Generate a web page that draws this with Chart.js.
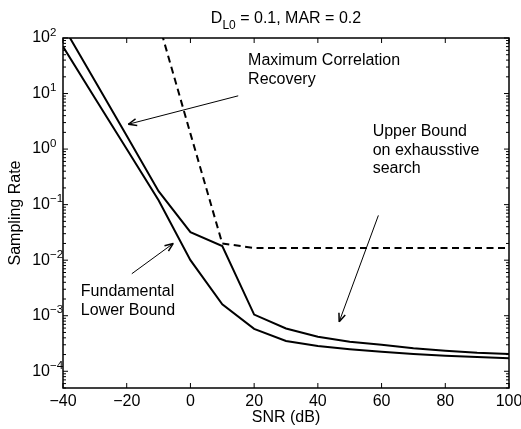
<!DOCTYPE html>
<html>
<head>
<meta charset="utf-8">
<script src="https://cdn.jsdelivr.net/npm/chart.js@4/dist/chart.umd.min.js"></script>
<style>
  html, body { margin: 0; padding: 0; background: #fff; }
  #wrap { width: 521px; height: 429px; }
</style>
</head>
<body>
<div id="wrap"><canvas id="c" width="521" height="429"></canvas></div>
<script>
// ---- data ----
const snr = [-40, -30, -20, -10, 0, 10, 20, 30, 40, 50, 60, 70, 80, 90, 100];
const fundamentalLowerBound = [70, 8.3, 1.0, 0.12, 0.01, 0.0016, 0.00058, 0.00035, 0.000285, 0.00025, 0.000225, 0.000205, 0.00019, 0.00018, 0.000172];
const maxCorrelationRecovery = [165, 17, 1.74, 0.175, 0.032, 0.018, 0.00105, 0.00059, 0.00042, 0.00034, 0.0003, 0.00026, 0.000235, 0.000215, 0.000205];
const upperBoundExhaustive = [null, null, null, 190, 1.9, 0.02, 0.0166, 0.0165, 0.0165, 0.0165, 0.0165, 0.0165, 0.0165, 0.0165, 0.0165];

const xTickValues = [-40, -20, 0, 20, 40, 60, 80, 100];
const xTickLabels = ['\u221240', '\u221220', '0', '20', '40', '60', '80', '100'];
const yTickValues = [1e-4, 1e-3, 1e-2, 1e-1, 1e0, 1e1, 1e2];
const yTickExponents = ['\u22124', '\u22123', '\u22122', '\u22121', '0', '1', '2'];

const titleMain = 'D';
const titleSub = 'L0';
const titleRest = ' = 0.1, MAR = 0.2';
const xAxisTitle = 'SNR (dB)';
const yAxisTitle = 'Sampling Rate';

// annotation anchors in data units (x in dB, y in sampling rate)
const annotations = [
  { lines: ['Maximum Correlation', 'Recovery'], x: 18.1, y: 38.5, from: [15.0, 9.1], to: [-19.5, 2.8] },
  { lines: ['Upper Bound', 'on exhausstive', 'search'], x: 57.2, y: 2.05, from: [59.0, 0.064], to: [46.7, 0.00078] },
  { lines: ['Fundamental', 'Lower Bound'], x: -34.4, y: 0.0027, from: [-18.4, 0.0057], to: [-5.4, 0.02] }
];

const FONT = "'Liberation Sans', Arial, Helvetica, sans-serif";

const decorations = {
  id: 'decorations',
  afterDraw(chart) {
    const { ctx, chartArea: a, scales: { x, y } } = chart;
    ctx.save();
    ctx.strokeStyle = '#000';
    ctx.fillStyle = '#000';
    const seg = (x1, y1, x2, y2) => { ctx.beginPath(); ctx.moveTo(x1, y1); ctx.lineTo(x2, y2); ctx.stroke(); };

    // box
    ctx.lineWidth = 1.5;
    ctx.strokeRect(a.left, a.top, a.right - a.left, a.bottom - a.top);

    // x ticks (inside, bottom & top)
    ctx.lineWidth = 1;
    xTickValues.forEach(v => {
      const px = x.getPixelForValue(v);
      seg(px, a.bottom, px, a.bottom - 5);
      seg(px, a.top, px, a.top + 5);
    });
    // y ticks (log major + minor, inside left & right)
    for (let e = -5; e <= 2; e++) {
      for (let m = 1; m < 10; m++) {
        const v = m * Math.pow(10, e);
        if (v < y.min * 0.999 || v > y.max * 1.001) continue;
        const py = y.getPixelForValue(v);
        const len = m === 1 ? 5 : 3;
        seg(a.left, py, a.left + len, py);
        seg(a.right, py, a.right - len, py);
      }
    }

    // y tick labels: 10 with superscript exponent
    yTickValues.forEach((v, i) => {
      const py = y.getPixelForValue(v);
      ctx.font = '16px ' + FONT;
      ctx.textAlign = 'right';
      ctx.textBaseline = 'middle';
      ctx.fillText('10', a.left - 13, py);
      ctx.font = '11.5px ' + FONT;
      ctx.textAlign = 'left';
      ctx.textBaseline = 'alphabetic';
      ctx.fillText(yTickExponents[i], a.left - 13, py - 2.5);
    });

    // title with subscript
    ctx.textAlign = 'left';
    ctx.textBaseline = 'alphabetic';
    ctx.font = '16px ' + FONT;
    const wMain = ctx.measureText(titleMain).width;
    const wRest = ctx.measureText(titleRest).width;
    ctx.font = '12px ' + FONT;
    const wSub = ctx.measureText(titleSub).width;
    const total = wMain + wSub + wRest;
    let tx = (a.left + a.right) / 2 - total / 2;
    const tb = a.top - 15.3;
    ctx.font = '16px ' + FONT;
    ctx.fillText(titleMain, tx, tb);
    tx += wMain;
    ctx.font = '12px ' + FONT;
    ctx.fillText(titleSub, tx, tb + 6.5);
    tx += wSub;
    ctx.font = '16px ' + FONT;
    ctx.fillText(titleRest, tx, tb);

    // annotations
    annotations.forEach(an => {
      ctx.font = '16px ' + FONT;
      ctx.textAlign = 'left';
      ctx.textBaseline = 'middle';
      const lx = x.getPixelForValue(an.x);
      const ly = y.getPixelForValue(an.y);
      an.lines.forEach((t, k) => ctx.fillText(t, lx, ly + k * 18.5));
      const x1 = x.getPixelForValue(an.from[0]), y1 = y.getPixelForValue(an.from[1]);
      const x2 = x.getPixelForValue(an.to[0]), y2 = y.getPixelForValue(an.to[1]);
      ctx.lineWidth = 1;
      seg(x1, y1, x2, y2);
      const ang = Math.atan2(y2 - y1, x2 - x1);
      const hl = 9, hw = 0.38;
      ctx.lineWidth = 1.5;
      seg(x2, y2, x2 - hl * Math.cos(ang - hw), y2 - hl * Math.sin(ang - hw));
      seg(x2, y2, x2 - hl * Math.cos(ang + hw), y2 - hl * Math.sin(ang + hw));
    });
    ctx.restore();
  }
};

new Chart(document.getElementById('c'), {
  type: 'line',
  data: {
    labels: snr,
    datasets: [
      { label: 'Fundamental Lower Bound', data: snr.map((s, i) => ({ x: s, y: fundamentalLowerBound[i] })),
        borderColor: '#000', borderWidth: 2, pointRadius: 0, tension: 0, fill: false },
      { label: 'Maximum Correlation Recovery', data: snr.map((s, i) => ({ x: s, y: maxCorrelationRecovery[i] })),
        borderColor: '#000', borderWidth: 2, pointRadius: 0, tension: 0, fill: false },
      { label: 'Upper Bound on exhaustive search', data: snr.map((s, i) => ({ x: s, y: upperBoundExhaustive[i] })),
        borderColor: '#000', borderWidth: 2, borderDash: [7, 4.5], pointRadius: 0, tension: 0, fill: false, spanGaps: false }
    ]
  },
  options: {
    responsive: false,
    animation: false,
    devicePixelRatio: 1,
    layout: { padding: { top: 38, right: 12, left: 0, bottom: 0 } },
    plugins: { legend: { display: false }, tooltip: { enabled: false } },
    scales: {
      x: {
        type: 'linear', min: -40, max: 100,
        grid: { display: false, drawTicks: false },
        border: { display: false },
        afterBuildTicks: s => { s.ticks = xTickValues.map(v => ({ value: v })); },
        ticks: { font: { size: 16, family: FONT }, color: '#000', padding: 4, maxRotation: 0,
                 callback: (v) => { const i = xTickValues.indexOf(v); return i >= 0 ? xTickLabels[i] : ''; } },
        title: { display: true, text: xAxisTitle, color: '#000', font: { size: 16, family: FONT }, padding: { top: 0, bottom: 2 } },
        afterFit: s => { s.height = 41; s.paddingLeft = 0; s.paddingRight = 0; }
      },
      y: {
        type: 'logarithmic', min: 5e-5, max: 100,
        grid: { display: false, drawTicks: false },
        border: { display: false },
        afterBuildTicks: s => { s.ticks = yTickValues.map(v => ({ value: v })); },
        ticks: { display: false },
        title: { display: true, text: yAxisTitle, color: '#000', font: { size: 16, family: FONT }, padding: { top: 6.4, bottom: 0 } },
        afterFit: s => { s.width = 63; }
      }
    }
  },
  plugins: [decorations]
});
</script>
</body>
</html>
